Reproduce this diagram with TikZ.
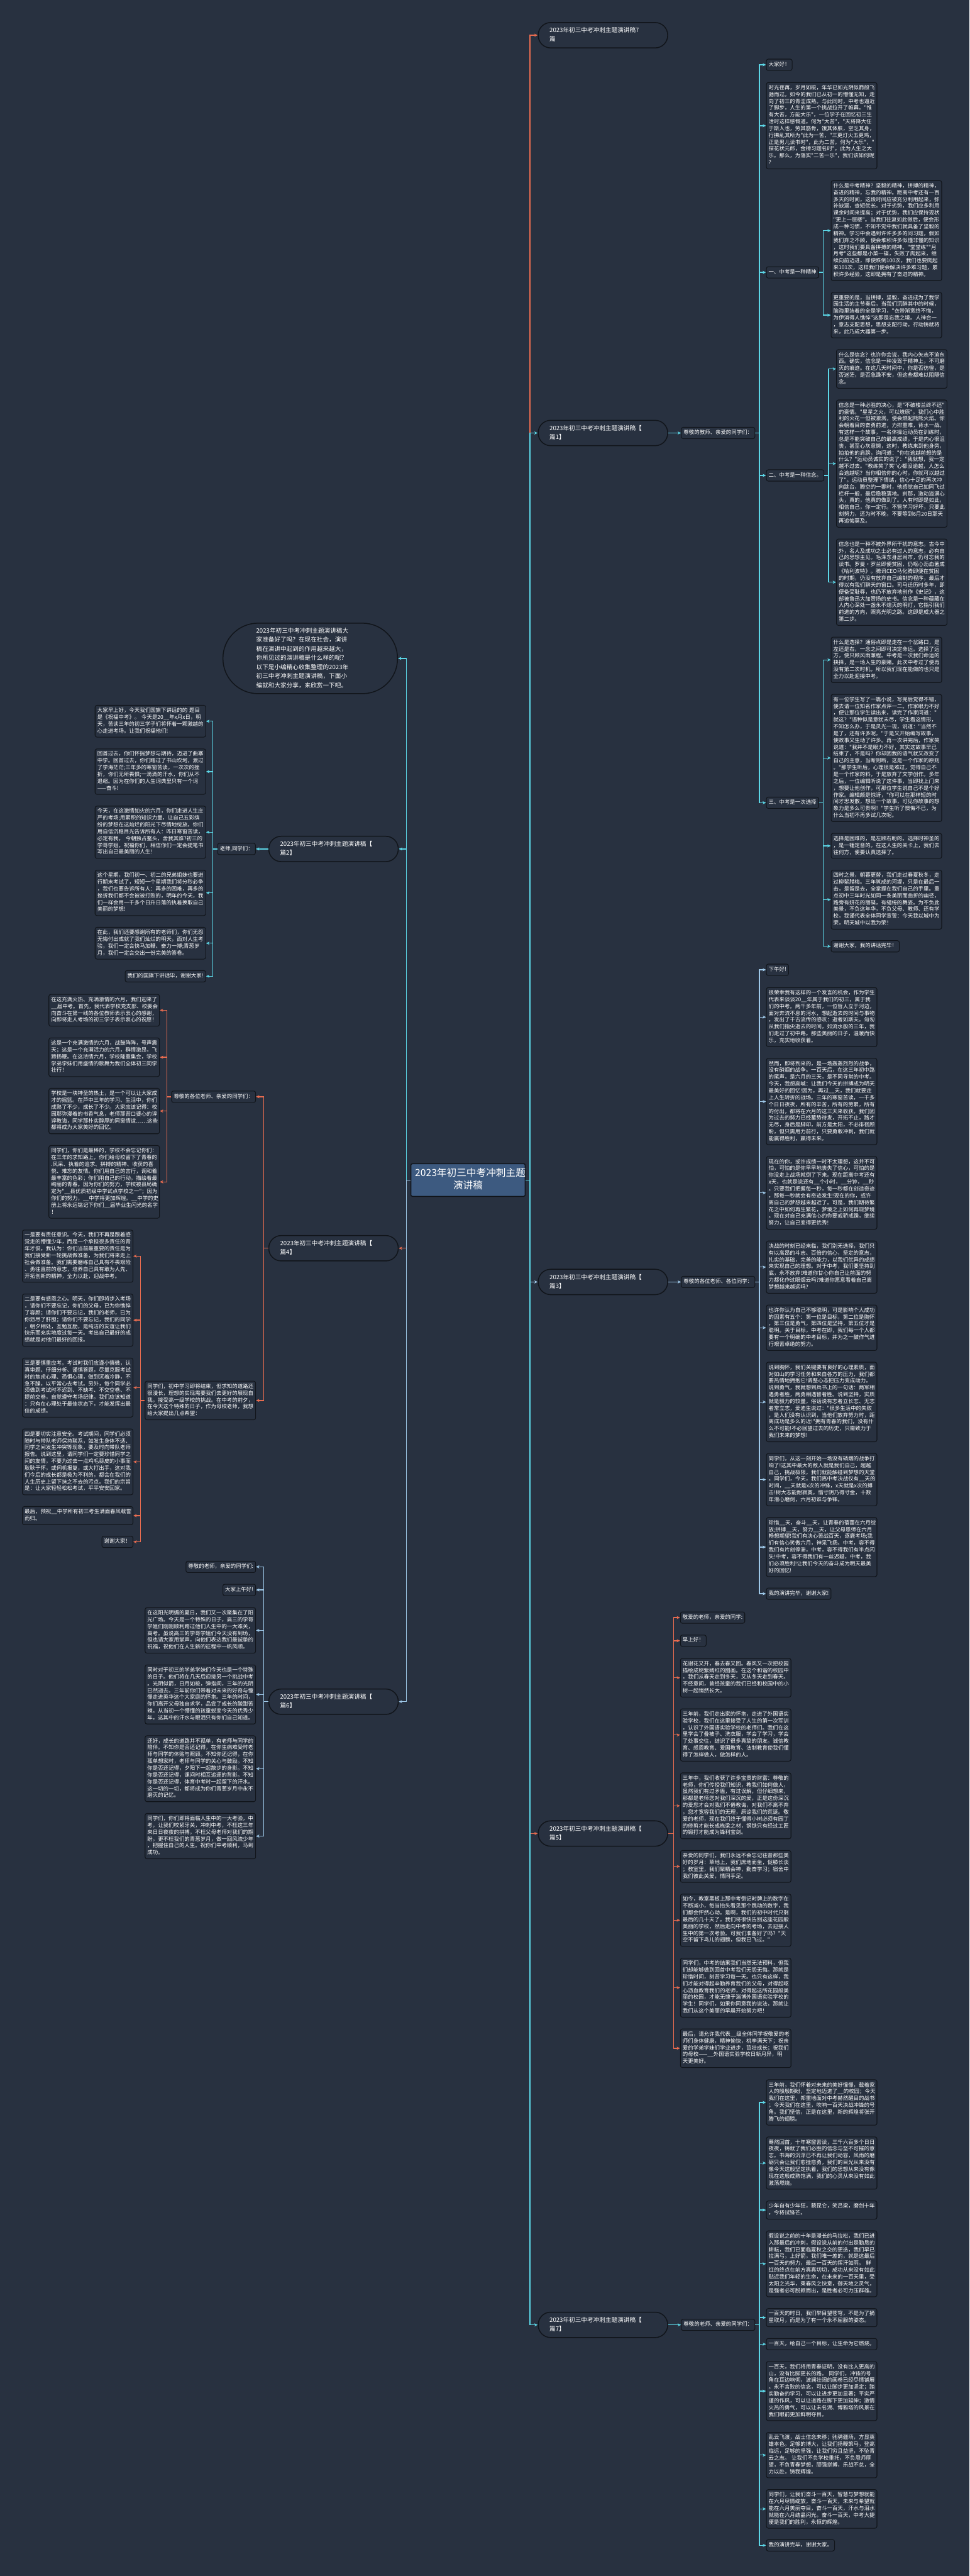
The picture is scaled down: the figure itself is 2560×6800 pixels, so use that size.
\documentclass[tikz,border=0pt]{standalone}
\usepackage{fontspec}
\newfontfamily\cjk{Noto Sans CJK SC}
\usetikzlibrary{arrows.meta,positioning}

\definecolor{bgc}{RGB}{40,49,64}
\definecolor{edgec}{RGB}{17,21,27}
\definecolor{rootc}{RGB}{61,90,128}
\definecolor{cyanc}{RGB}{92,214,230}
\definecolor{bluec}{RGB}{158,200,232}
\definecolor{orangec}{RGB}{232,108,80}

\newcommand{\smallfont}{\cjk\fontsize{7.97pt}{10.24pt}\selectfont}
\newcommand{\midfont}{\cjk\fontsize{9.1pt}{13.37pt}\selectfont}
\newcommand{\intfont}{\cjk\fontsize{9.1pt}{13.66pt}\selectfont}
\newcommand{\rootfont}{\cjk\fontsize{14.8pt}{18.78pt}\selectfont}

\begin{document}
\begin{tikzpicture}[x=0.2mm, y=-0.2mm, >={Stealth[length=1.8mm,width=1.6mm]},
  every node/.style={text=white},
  lbl/.style={draw=edgec, fill=bgc, line width=0.35mm, rounded corners=1mm, inner xsep=1.2mm, inner ysep=1.2mm, font=\smallfont, execute at begin node=\strut, execute at end node=\strut},
  para/.style={lbl, text width=56mm, align=left},
  topicbox/.style={draw=edgec, fill=bgc, line width=0.5mm, rounded corners=6.6mm, inner xsep=6mm, inner ysep=2mm, text width=56.4mm, align=left, font=\midfont, execute at begin node=\strut, execute at end node=\strut},
  introbox/.style={draw=edgec, fill=bgc, line width=0.5mm, rounded corners=18.5mm, inner xsep=17.6mm, inner ysep=1.8mm, text width=57mm, align=left, font=\intfont, execute at begin node=\strut, execute at end node=\strut},
  rootbox/.style={draw=edgec, fill=rootc, line width=0.5mm, rounded corners=0.8mm, inner xsep=2.2mm, inner ysep=2mm, text width=56mm, align=center, font=\rootfont, execute at begin node=\strut, execute at end node=\strut},
  cyline/.style={draw=cyanc, line width=0.45mm, ->},
  blline/.style={draw=bluec, line width=0.45mm, ->},
  orline/.style={draw=orangec, line width=0.45mm, ->}]

\path[use as bounding box, fill=bgc] (0,0) rectangle (2560,6800);

\node[rootbox] (root) at (1236,3115) {2023年初三中考冲刺主题\\演讲稿};

% right side
\node[topicbox, anchor=west] (t7) at (1420,93) {2023年初三中考冲刺主题演讲稿7\\篇};

\node[topicbox, anchor=west] (b1) at (1420,1143) {2023年初三中考冲刺主题演讲稿【\\篇1】};
\node[lbl, right=6.8mm of b1] (s1) {尊敬的教师、亲爱的同学们：};
\node[lbl, anchor=west] (p1a) at (2023,171) {大家好！};
\node[para, anchor=north west] (p1b) at (2023,217) {时光荏苒，岁月如梭，年华已如光阴似箭般飞\\驰而过。如今的我们已从初一的懵懂无知，走\\向了初三的青涩成熟。与此同时，中考也逼近\\了脚步，人生的第一个挑战拉开了帷幕。"惟\\有大苦，方能大乐"，一位学子在回忆初三生\\活时这样感慨道。何为"大苦"，"天将降大任\\于斯人也，劳其筋骨，饿其体肤，空乏其身，\\行拂乱其所为"此为一苦，"三更灯火五更鸡，\\正是男儿读书时"，此为二苦。何为"大乐"，"\\探花状元郎，金榜习题名时"，此为人生之大\\乐。那么，为落实"二苦一乐"，我们该如何呢\\？};
\node[lbl, anchor=west] (p1c) at (2023,719) {一、中考是一种精神};
\node[para, anchor=north west] (p1c1) at (2194,476) {什么是中考精神？坚毅的精神，拼搏的精神，\\奋进的精神，忘我的精神。距离中考还有一百\\多天的时间，这段时间应被充分利用起来，弥\\补缺漏，查短优长。对于劣势，我们应多利用\\课余时间来提高；对于优势，我们应保持现状\\"更上一层楼"。当我们往复如此做后，便会形\\成一种习惯，不知不觉中我们就具备了坚毅的\\精神。学习中会遇到许许多多的问习题，假如\\我们弃之不顾，便会堆积许多似懂非懂的知识\\，这时我们要具备拼搏的精神。"堂堂练""月\\月考"这些都是小菜一碟，失败了爬起来，继\\续向前迈进，即便跌倒100次，我们也要爬起\\来101次，这样我们便会解决许多难习题，累\\积许多经验，这即是拥有了奋进的精神。};
\node[para, anchor=north west] (p1c2) at (2194,771) {更重要的是，当拼搏，坚毅，奋进成为了我学\\园生活的主节奏后，当我们沉醉其中的时候，\\脑海里装着的全是学习，"衣带渐宽终不悔，\\为伊消得人憔悴"这即是忘我之境。人神合一\\，意志支配思想，思想支配行动，行动铸就将\\来，此乃成大器第一步。};
\node[lbl, anchor=west] (p1d) at (2023,1255) {二、中考是一种信念。};
\node[para, anchor=north west] (p1d1) at (2208,922) {什么是信念？也许你会说，我内心矢志不渝东\\西。确实，信念是一种凌驾于精神上，不可磨\\灭的痕迹。在这几天时间中，你是否彷徨，是\\否迷茫，是否急躁不安，但这些都难以阻隔信\\念。};
\node[para, anchor=north west] (p1d2) at (2208,1055) {信念是一种必胜的决心，是"不破楼兰终不还"\\的豪情。"星星之火，可以燎原"，我们心中胜\\利的火花一但被激溅，便会燃起熊熊火焰。你\\会朝着目的奋勇前进，力排重难，背水一战。\\有这样一个故事，一名体操运动员在训练时，\\总是不能突破自己的最高成绩，于是内心很沮\\丧，甚至心灰意懒，这时，教练来到他身旁，\\拍拍他的肩膀，询问道："你在逾越前想的是\\什么？"运动员诚实的说了："我就想，我一定\\越不过去。"教练笑了笑"心都没逾越，人怎么\\会逾越呢？当你相信你的心时，你就可以越过\\了"。运动员整理下情绪，信心十足的再次冲\\向跳台，腾空的一霎时，他感觉自己如同飞过\\栏杆一般，最后稳稳落地。刹那，激动溢满心\\头，真的，他真的做到了。人有时即是如此，\\相信自己，你一定行。不管学习好坏，只要此\\刻努力，还为时不晚，不要等到6月20日那天\\再追悔莫及。};
\node[para, anchor=north west] (p1d3) at (2208,1422) {信念也是一种不被外界所干扰的意志。古今中\\外，名人及成功之士必有过人的意志，必有自\\己的思想主见。毛泽东身居闹市，仍可忘我的\\读书。罗曼·罗兰即便贫困，仍呕心沥血著成\\《哈利波特》。腾讯CEO马化腾即便在贫困\\的时期，仍没有放弃自己编制的程序，最后才\\得以有我们聊天的窗口。司马迁历时多年，即\\便备受耻辱，也仍不放弃地创作《史记》，这\\部被鲁迅大加赞扬的史书。信念是一种蕴藏在\\人内心深处一盏永不熄灭的明灯，它指引我们\\前进的方向，照亮光明之路。这即是成大器之\\第二步。};
\node[lbl, anchor=west] (p1e) at (2023,2119) {三、中考是一次选择};
\node[para, anchor=north west] (p1e1) at (2194,1681) {什么是选择？通俗点即是走在一个岔路口，是\\左还是右，一念之间即可决定命运。选择了远\\方，便只顾风雨兼程。中考是一次我们命运的\\抉择，是一场人生的豪赌。此次中考过了便再\\没有第二次时机，所以我们现在能做的也只是\\全力以赴迎接中考。};
\node[para, anchor=north west] (p1e2) at (2194,1832) {有一位学生写了一篇小说，写完后觉得不错，\\便去请一位知名作家点评一二。作家眼力不好\\，便让那位学生读出来，读完了作家问道："\\就这？"语种似是意犹未尽，学生看这情形，\\不知怎么办，于是灵光一现，说道："当然不\\是了，还有许多呢。"于是又开始编写故事，\\使故事又生动了许多。再一次讲完后，作家笑\\说道："我并不是眼力不好，其实这故事早已\\结束了，不是吗？你却因我的语气就又改变了\\自己的主意，当断则断，这是一个作家的原则\\。"那学生听后，心理很是难过，觉得自己不\\是一个作家的料，于是放弃了文学创作。多年\\之后，一位编辑听说了这件事，当即找上门来\\，想要让他创作，可那位学生说自己不是个好\\作家。编辑颇是惊讶，"你可以在那样短的时\\间才思发散，想出一个故事，可见你故事的想\\象力是多么可贵啊！"学生听了懊悔不已，为\\什么当初不再多试几次呢。};
\node[para, anchor=north west] (p1e3) at (2194,2199) {选择是困难的，是左顾右盼的。选择时神圣的\\，是一锤定音的。在这人生的关卡上，我们去\\往何方，便要认真选择了。};
\node[para, anchor=north west] (p1e4) at (2194,2296) {四时之景，朝暮更替，我们走过春夏秋冬，走\\过柳絮腊梅。三年筑成的河堤，只是在最后一\\击，是留是去，全掌握在我们自己的手里。重\\点初中三年时光如同一条美丽而曲折的幽径，\\路旁有妍花的丽碟，有缱绻的舞姿。为不负此\\美景，不负这年华，不负父母、教师、还有学\\校，我谨代表全体同学宣誓：今天我以城中为\\荣，明天城中以我为荣！};
\node[lbl, anchor=west] (p1e5) at (2194,2498) {谢谢大家，我的讲话完毕！};

\node[topicbox, anchor=west] (b3) at (1420,3384) {2023年初三中考冲刺主题演讲稿【\\篇3】};
\node[lbl, right=6.8mm of b3] (s3) {尊敬的各位老师、各位同学：};
\node[lbl, anchor=west] (q1) at (2023,2560) {下午好!};
\node[para, anchor=north west] (q2) at (2023,2606) {很荣幸我有这样的一个发言的机会，作为学生\\代表来谈谈20\_\_年属于我们的初三，属于我\\们的中考。两千多年前，一位哲人立于河边，\\面对奔流不息的河水，想起逝去的时间与事物\\，发出了千古流传的感叹：逝者如斯夫。匆匆\\从我们指尖逝去的时间，如流水般的三年，我\\们走过了初中路。那些美丽的日子，温暖而快\\乐，充实地收获着。};
\node[para, anchor=north west] (q3) at (2023,2793) {然而，即将到来的，是一场轰轰烈烈的战争，\\没有硝烟的战争。一百天后，在这三年初中路\\的尾声，是六月的三天，是不同寻常的中考。\\今天，我想高喊：让我们今天的拼搏成为明天\\最美好的回忆!因为，再过\_\_天，我们就要走\\上人生转折的战场。三年的寒窗苦读，一千多\\个日日夜夜，所有的辛苦，所有的劳累，所有\\的付出，都将在六月的这三天来收获。我们因\\为过去的努力已经蓄势待发，开拓不止，路才\\无尽，身后是脚印，前方是太阳，不必徘徊顾\\盼，但只需用力前行，只要勇敢冲刺，我们就\\能赢得胜利，赢得未来。};
\node[para, anchor=north west] (q4) at (2023,3052) {现在的你，或许成绩一时不太理想，这并不可\\怕，可怕的是你早早地丧失了信心，可怕的是\\你没走上战场就倒了下来。现在距离中考还有\\x天，也就是说还有\_\_个小时，\_\_分钟，\_\_秒\\。只要我们把握每一秒，每一秒都在创造奇迹\\，那每一秒就会有奇迹发生!现在的你，或许\\离自己的梦想越来越近了。可是，我们期待繁\\花之中如何再生繁花，梦境之上如何再现梦境\\。现在对自己充满信心的你要戒骄戒躁，继续\\努力，让自己变得更优秀!};
\node[para, anchor=north west] (q5) at (2023,3275) {决战的时刻已经来临，我们别无选择，我们只\\有以高昂的斗志、百倍的信心，坚定的意志，\\扎实的基础，完善的能力，以我们优异的成绩\\来实现自己的理想。对于中考，我们要坚持到\\底，永不放弃!难道你甘心你自己让前面的努\\力都化作过眼烟云吗?难道你愿意看着自己离\\梦想越来越远吗?};
\node[para, anchor=north west] (q6) at (2023,3444) {也许你认为自己不够聪明，可是影响个人成功\\的因素有五个：第一位是目标，第二位是胸怀\\，第三位是勇气，第四位是坚持，第五位才是\\聪明。关于目标，中考在即，我们每一个人都\\要有一个明确的中考目标，并为之一鼓作气进\\行艰苦卓绝的努力。};
\node[para, anchor=north west] (q7) at (2023,3595) {说到胸怀，我们关键要有良好的心理素质，面\\对如山的学习任务和来自各方的压力，我们都\\要热情地拥抱它!调整心态把压力变成动力。\\说到勇气，我就想到兵书上的一句话：两军相\\遇勇者胜，两勇相遇智者胜。说到坚持，实质\\就是毅力的较量，俗话说有志者立长志、无志\\者常立志，爱迪生说过："很多生活中的失败\\，是人们没有认识到，当他们放弃努力时，距\\离成功是多么的近!"拥有青春的我们，没有什\\么不可能!不必回望过去的历史，只需致力于\\我们未来的梦想!};
\node[para, anchor=north west] (q8) at (2023,3836) {同学们，从这一刻开始一场没有硝烟的战争打\\响了!这其中最大的敌人就是我们自己，超越\\自己，挑战极限，我们就能触碰到梦想的天堂\\。同学们，今天，我们离中考决战仅有\_\_天的\\时间，\_\_天就是x次的冲锋，x天就是x次的搏\\击!树大志能耐寂寞，惜寸阴乃得寸金，十数\\年潜心磨剑，六月初谁与争锋。};
\node[para, anchor=north west] (q9) at (2023,4005) {珍惜\_\_天，奋斗\_\_天，让青春的蓓蕾在六月绽\\放;拼搏\_\_天，努力\_\_天，让父母恩师在六月\\畅想期望!我们有决心苦战百天，逐鹿考场;我\\们有信心笑傲六月，神采飞扬。中考，容不得\\我们有片刻停滞，中考，容不得我们有半点闪\\失!中考，容不得我们有一丝迟疑，中考，我\\们必须胜利!让我们今天的奋斗成为明天最美\\好的回忆!};
\node[lbl, anchor=west] (q10) at (2023,4207) {我的演讲完毕，谢谢大家!};

\node[topicbox, anchor=west] (b5) at (1420,4840) {2023年初三中考冲刺主题演讲稿【\\篇5】};
\node[lbl, anchor=west] (r1) at (1796,4270) {敬爱的老师，亲爱的同学:};
\node[lbl, anchor=west] (r2) at (1796,4331) {早上好！};
\node[para, anchor=north west] (r3) at (1796,4377) {花谢花又开，春去春又回。春风又一次把校园\\描绘成姹紫嫣红的图画。在这个和谐的校园中\\，我们从春天走到冬天，又从冬天走到春天。\\不经意间，曾经孩童的我们已经和校园中的小\\树一起悄然长大。};
\node[para, anchor=north west] (r4) at (1796,4510) {三年前，我们走出家的怀抱，走进了外国语实\\验学校，我们在这里接受了人生的第一次军训\\，认识了外国语实验学校的老师们。我们在这\\里学会了叠被子、洗衣服，学会了学习，学会\\了处事交往，结识了很多真挚的朋友。诚信教\\育、感恩教育、爱国教育、法制教育使我们懂\\得了怎样做人，做怎样的人。};
\node[para, anchor=north west] (r5) at (1796,4679) {三年中，我们收获了许多宝贵的财富：尊敬的\\老师，你们传授我们知识，教我们如何做人，\\虽然我们有过矛盾，有过误解，但仔细想来，\\那都是老师您对我们深沉的爱，正是这份深沉\\的爱您才会对我们不倦教诲，对我们不离不弃\\，您才宽容我们的无理，原谅我们的荒诞。敬\\爱的老师，现在我们终于懂得小树必须有园丁\\的修剪才能长成栋梁之材，钢铁只有经过工匠\\的锻打才能成为锋利宝剑。};
\node[para, anchor=north west] (r6) at (1796,4884) {亲爱的同学们，我们永远不会忘记往昔那些美\\好的岁月：草地上，我们席地而坐，促膝长谈\\；教室里，我们聚精会神，勤奋学习；宿舍中\\我们彼此关爱，情同手足。};
\node[para, anchor=north west] (r7) at (1796,4999) {如今，教室黑板上那中考倒记时牌上的数字在\\不断减小，每当抬头看见那个跳动的数字，我\\们都会怦然心动。是啊，我们的初中时代只剩\\最后的几十天了。我们将很快告别这座花园般\\美丽的学校，然后走向中考的考场，去迎接人\\生中的第一次考验。可我们准备好了吗？"天\\空不留下鸟儿的翅膀，但我已飞过。"};
\node[para, anchor=north west] (r8) at (1796,5168) {同学们，中考的结果我们当然无法预料，但我\\们却能够做到回首中考我们无怨无悔。那就是\\珍惜时间，刻苦学习每一天。也只有这样，我\\们才能对得起辛勤养育我们的父母，对得起呕\\心沥血教育我们的老师，对得起这所花园般美\\丽的校园，才能无愧于淄博外国语实验学校的\\学生！同学们，如果你同意我的说法，那就让\\我们从这个美丽的早晨开始努力吧！};
\node[para, anchor=north west] (r9) at (1796,5355) {最后，请允许我代表\_\_级全体同学祝敬爱的老\\师们身体健康，精神愉快，桃李满天下；祝亲\\爱的学弟学妹们学业进步，茁壮成长；祝我们\\的母校——\_\_外国语实验学校日新月异，明\\天更美好。};

\node[topicbox, anchor=west] (b7) at (1420,6137) {2023年初三中考冲刺主题演讲稿【\\篇7】};
\node[lbl, right=6.8mm of b7] (s7) {尊敬的老师、亲爱的同学们：};
\node[para, anchor=north west] (u1) at (2023,5489) {三年前，我们怀着对未来的美好憧憬，载着家\\人的殷殷期盼，坚定地迈进了\_\_的校园；今天\\我们在这里，郑重地面对中考赫然醒目的战书\\；今天我们在这里，吹响一百天决战冲锋的号\\角。我们坚信，正是在这里，新的辉煌将张开\\腾飞的翅膀。};
\node[para, anchor=north west] (u2) at (2023,5640) {蓦然回首，十年寒窗苦读，三千六百多个日日\\夜夜，铸就了我们必胜的信念与坚不可摧的意\\志。书海的沉浮已不再让我们动容，风雨的磨\\砺只会让我们愈挫愈勇，我们的目光从来没有\\像今天这般坚定执着，我们的思想从来没有像\\现在这般成熟饱满，我们的心灵从来没有如此\\激荡燃烧。};
\node[para, anchor=north west] (u3) at (2023,5809) {少年自有少年狂，藐昆仑，笑吕梁，磨剑十年\\，今将试锋芒。};
\node[para, anchor=north west] (u4) at (2023,5888) {假设说之前的十年是漫长的马拉松，我们已进\\入那最后的冲刺，假设说从前的付出是勤恳的\\耕耘，我们已面临夏秋之交的更迭，我们早已\\拉满弓，上好箭，我们唯一差的，就是这最后\\一百天的努力，最后一百天的挥汗如雨。 鲜\\红的终点在前方真真切切，成功从来没有如此\\贴近我们年轻的生命，在未来的一百天里，受\\太阳之光华，乘春风之快意，御天地之灵气，\\是强者必可脱颖而出，是胜者必可力压群雄。};
\node[para, anchor=north west] (u5) at (2023,6093) {一百天的时日，我们举目望苍穹，不是为了摘\\星取月，而是为了有一个永不屈服的姿态。};
\node[para, anchor=north west] (u6) at (2023,6172) {一百天，给自己一个目标，让生命为它燃烧。};
\node[para, anchor=north west] (u7) at (2023,6233) {一百天，我们将用青春证明，没有比人更高的\\山，没有比脚更长的路。 同学们，冲锋的号\\角在耳边响彻，波澜壮阔的画卷已经尽情铺展\\。永不言败的信念，可以让脚步更加坚定；踏\\实勤奋的学习，可以让进步更加显著；平实严\\谨的作风，可以让道路在脚下更加延伸；激情\\火热的勇气，可以让未名湖、博雅塔的风景在\\我们眼前更加鲜明夺目。};
\node[para, anchor=north west] (u8) at (2023,6420) {乱云飞渡，战士信念未移；驰骋疆场，方显英\\雄本色。足够的博大，让我们扬鞭策马，登高\\临远，足够的坚强，让我们穷且益坚，不坠青\\云之志。 让我们不负学校重托，不负恩师厚\\望，不负青春梦想，顽强拼搏，乐战不怠，全\\力以赴，铸我辉煌。};
\node[para, anchor=north west] (u9) at (2023,6571) {同学们，让我们奋斗一百天，智慧与梦想就能\\在六月尽情绽放，奋斗一百天，未来与希望就\\能在六月美丽夺目，奋斗一百天，汗水与泪水\\就能在六月结晶闪光。奋斗一百天，中考大捷\\便是我们的胜利，永恒的辉煌。};
\node[lbl, anchor=west] (u10) at (2023,6719) {我的演讲完毕，谢谢大家。};

% left side
\node[introbox, anchor=east] (intro) at (1051,1738) {2023年初三中考冲刺主题演讲稿大\\家准备好了吗？在现在社会，演讲\\稿在演讲中起到的作用越来越大，\\你所见过的演讲稿是什么样的呢？\\以下是小编精心收集整理的2023年\\初三中考冲刺主题演讲稿，下面小\\编就和大家分享，来欣赏一下吧。};

\node[topicbox, anchor=east] (b2) at (1053,2241) {2023年初三中考冲刺主题演讲稿【\\篇2】};
\node[lbl, left=6.6mm of b2] (s2) {老师,同学们：};
\node[para, anchor=north east] (v1) at (544,1861) {大家早上好，今天我们国旗下讲话的的 题目\\是《祝福中考》。 今天是20\_\_年x月x日，明\\天，苦读三年的初三学子们将怀着一颗激越的\\心走进考场。让我们祝福他们!};
\node[para, anchor=north east] (v2) at (544,1976) {回首过去，你们怀揣梦想与期待，迈进了曲寨\\中学。回首过去，你们踏过了书山坎坷，渡过\\了学海茫茫;三年多的寒窗苦读，一次次的挫\\折，你们无所畏惧;一滴滴的汗水，你们从不\\退缩。因为在你们的人生词典里只有一个词\\——奋斗!};
\node[para, anchor=north east] (v3) at (544,2127) {今天，在这激情如火的六月，你们走进人生庄\\严的考场;用累积的知识力量，让自己五彩缤\\纷的梦想在这灿烂的阳光下尽情地绽放。你们\\用自信沉稳目光告诉所有人：昨日寒窗苦读，\\必定有我， 今朝独占鳌头，舍我其谁?初三的\\学哥学姐，祝福你们，相信你们一定会提笔书\\写出自己最美丽的人生!};
\node[para, anchor=north east] (v4) at (544,2296) {这个星期，我们初一、初二的兄弟姐妹也要进\\行期末考试了，短短一个星期我们将分秒必争\\，我们也要告诉所有人：再多的困难，再多的\\挫折我们都不会被被打败的，明年的今天，我\\们一样会用一千多个日升日落的执着换取自己\\美丽的梦想!};
\node[para, anchor=north east] (v5) at (544,2447) {在此，我们还要感谢所有的老师们，你们无怨\\无悔付出成就了我们灿烂的明天，面对人生考\\验，我们一定会快马加鞭、奋力一搏;青葱岁\\月，我们一定会交出一份完美的答卷。};
\node[lbl, anchor=east] (v6) at (544,2577) {我们的国旗下讲话毕，谢谢大家!};

\node[topicbox, anchor=east] (b4) at (1053,3295) {2023年初三中考冲刺主题演讲稿【\\篇4】};
\node[lbl, anchor=east] (s4a) at (676,2895) {尊敬的各位老师、亲爱的同学们：};
\node[para, anchor=north east] (w1) at (422,2624) {在这充满火热、充满激情的六月，我们迎来了\\\_\_届中考。首先，我代表学校党支部、校委会\\向奋斗在第一线的各位教师表示衷心的感谢，\\向即将走人考场的初三学子表示衷心的祝愿！};
\node[para, anchor=north east] (w2) at (422,2739) {这是一个充满激情的六月，战鼓阵阵，号声震\\天；这是一个充满活力的六月，群情激昂，飞\\蹄扬鞭。在这浓情六月，学校隆重集会，学校\\学弟学妹们用盛情的歌舞为我们全体初三同学\\壮行！};
\node[para, anchor=north east] (w3) at (422,2872) {学校是一块神圣的热土，是一个可以让大家成\\才的摇篮。在芦中三年的学习、生活中，你们\\成熟了不少，成长了不少。大家应该记得：校\\园那弥漫着的书香气息，老师那苦口婆心的谆\\谆教诲，同学那朴实醇厚的同窗情谊……这些\\都将成为大家美好的回忆。};
\node[para, anchor=north east] (w4) at (422,3023) {同学们，你们是最棒的，学校不会忘记你们：\\在三年的求知路上，你们给母校留下了青春的\\.风采、执着的追求、拼搏的精神、收获的喜\\悦、难忘的友情。你们用自己的言行，调和着\\最丰富的色彩；你们用自己的行动，描绘着最\\绚丽的青春。因为你们的努力，学校被县局确\\定为"\_\_县优质初级中学试点学校之一"；因为\\你们的努力，\_\_中学将更加辉煌。\_\_中学的史\\册上将永远铭记下你们\_\_届毕业生闪光的名字\\！};
\node[para, anchor=north east] (s4b) at (676,3645) {同学们，初中学习即将结束，但求知的道路还\\很漫长，理想的实现需要我们去更好的展现自\\我，接受高一级学校的挑战。在中考的前夕，\\在今天这个特殊的日子，作为母校老师，我想\\给大家提出几点希望：};
\node[para, anchor=north east] (x1) at (352,3246) {一是要有责任意识。今天，我们不再是跟着感\\觉走的懵懂少年，而是一个承担很多责任的青\\年才俊。我认为：你们当前最重要的责任是为\\我们接受新一轮挑战做准备，为我们将来走上\\社会做准备。我们需要磨练自己具有不畏艰险\\、勇往直前的意志，培养自己具有敢为人先、\\开拓创新的精神，全力以赴，迎战中考。};
\node[para, anchor=north east] (x2) at (352,3415) {二是要有感恩之心。明天，你们即将步入考场\\，请你们不要忘记，你们的父母，已为你憔悴\\了容颜；请你们不要忘记，我们的老师，已为\\你沥尽了肝胆；请你们不要忘记，我们的同学\\，朝夕相处，互勉互励，是纯洁的友谊让我们\\快乐而充实地度过每一天。考出自己最好的成\\绩就是对他们最好的回报。};
\node[para, anchor=north east] (x3) at (352,3584) {三是要慎重应考。考试时我们应谨小慎微，认\\真审题、仔细分析、谨慎答题，尽量克服考试\\时的焦虑心理、恐惧心理，做到沉着冷静，不\\急不躁，以平常心去考试。另外，每个同学必\\须做到考试时不迟到、不缺考、不交空卷、不\\提前交卷，自觉遵守考场纪律。我们应该知道\\：只有在心理处于最佳状态下，才能发挥出最\\佳的成绩。};
\node[para, anchor=north east] (x4) at (352,3771) {四是要切实注意安全。考试期间，同学们必须\\随时与带队老师保持联系，如发生身体不适、\\同学之间发生冲突等现象，要及时向带队老师\\报告。说到这里，请同学们一定要珍惜同学之\\间的友情，不要为过去一点鸡毛蒜皮的小事而\\耿耿于怀，或伺机报复，或大打出手，这对我\\们今后的成长都是极为不利的，都会在我们的\\人生历史上留下抹之不去的污点。我们的宗旨\\是：让大家轻轻松松考试，平平安安回家。};
\node[para, anchor=north east] (x5) at (352,3976) {最后，预祝\_\_中学所有初三考生满面春风载誉\\而归。};
\node[lbl, anchor=east] (x6) at (352,4070) {谢谢大家！};

\node[topicbox, anchor=east] (b6) at (1053,4492) {2023年初三中考冲刺主题演讲稿【\\篇6】};
\node[lbl, anchor=east] (y1) at (676,4136) {尊敬的老师，亲爱的同学们:};
\node[lbl, anchor=east] (y2) at (676,4197) {大家上午好!};
\node[para, anchor=north east] (y3) at (676,4243) {在这阳光明媚的夏日，我们又一次聚集在了阳\\光广场。今天是一个特殊的日子，高三的学哥\\学姐们刚刚顺利跨过他们人生中的一大难关，\\高考。虽说高三的学哥学姐们今天没有到场，\\但也请大家用掌声，向他们表达我们最诚挚的\\祝福，祝他们在人生新的征程中一帆风顺。};
\node[para, anchor=north east] (y4) at (676,4394) {同时对于初三的学弟学妹们今天也是一个特殊\\的日子。他们将在几天后迎接另一个挑战中考\\。光阴似箭，日月如梭，弹指间，三年的光阴\\已然逝去。三年前你们带着对未来的好奇与憧\\憬走进英华这个大家庭的怀抱。三年的时间，\\你们离开父母独自求学，品尝了成长的酸甜苦\\辣。从当初一个懵懂的孩童蜕变今天的优秀少\\年，这其中的汗水与眼泪只有你们自己知道。};
\node[para, anchor=north east] (y5) at (676,4581) {还好，成长的道路并不孤单，有老师与同学的\\陪伴。不知你是否还记得，在你生病难受时老\\师与同学的体贴与照顾。不知你还记得，在你\\孤单想家时，老师与同学的关心与鼓励。不知\\你是否还记得，夕阳下一起散步的身影。不知\\你是否还记得，课间时相互追逐的背影。不知\\你是否还记得，体育中考时一起留下的汗水。\\这一切的一切，都将成为你们青葱岁月中永不\\磨灭的记忆。};
\node[para, anchor=north east] (y6) at (676,4786) {同学们，你们即将面临人生中的一大考验，中\\考，让我们咬紧牙关，冲刺中考，不枉这三年\\来日日夜夜的拼搏，不枉父母老师对我们的期\\盼，更不枉我们的青葱岁月，做一回风流少年\\，把握住自己的人生。祝你们中考顺利，马到\\成功。};

% connectors
\draw[orline] (root.east) -- ++(11,0) |- (t7.west);
\draw[cyline] (root.east) -- ++(11,0) |- (b1.west);
\draw[blline] (root.east) -- ++(11,0) |- (b3.west);
\draw[orline] (root.east) -- ++(11,0) |- (b5.west);
\draw[cyline] (root.east) -- ++(11,0) |- (b7.west);
\draw[cyline] (root.west) -- ++(-11,0) |- (intro.east);
\draw[cyline] (root.west) -- ++(-11,0) |- (b2.east);
\draw[orline] (root.west) -- ++(-11,0) |- (b4.east);
\draw[blline] (root.west) -- ++(-11,0) |- (b6.east);

\draw[cyline] (b1.east) -- (s1.west);
\foreach \c in {p1a,p1b,p1c,p1d,p1e} \draw[cyline] (s1.east) -- ++(11,0) |- (\c.west);
\foreach \c in {p1c1,p1c2} \draw[cyline] (p1c.east) -- ++(11,0) |- (\c.west);
\foreach \c in {p1d1,p1d2,p1d3} \draw[cyline] (p1d.east) -- ++(11,0) |- (\c.west);
\foreach \c in {p1e1,p1e2,p1e3,p1e4,p1e5} \draw[cyline] (p1e.east) -- ++(11,0) |- (\c.west);

\draw[blline] (b3.east) -- (s3.west);
\foreach \c in {q1,q2,q3,q4,q5,q6,q7,q8,q9,q10} \draw[blline] (s3.east) -- ++(11,0) |- (\c.west);

\foreach \c in {r1,r2,r3,r4,r5,r6,r7,r8,r9} \draw[orline] (b5.east) -- ++(14,0) |- (\c.west);

\draw[cyline] (b7.east) -- (s7.west);
\foreach \c in {u1,u2,u3,u4,u5,u6,u7,u8,u9,u10} \draw[cyline] (s7.east) -- ++(11,0) |- (\c.west);

\draw[cyline] (b2.west) -- (s2.east);
\foreach \c in {v1,v2,v3,v4,v5,v6} \draw[cyline] (s2.west) -- ++(-12,0) |- (\c.east);

\foreach \c in {s4a,s4b} \draw[orline] (b4.west) -- ++(-12,0) |- (\c.east);
\foreach \c in {w1,w2,w3,w4} \draw[orline] (s4a.west) -- ++(-11,0) |- (\c.east);
\foreach \c in {x1,x2,x3,x4,x5,x6} \draw[orline] (s4b.west) -- ++(-11,0) |- (\c.east);

\foreach \c in {y1,y2,y3,y4,y5,y6} \draw[blline] (b6.west) -- ++(-12,0) |- (\c.east);
\end{tikzpicture}
\end{document}
